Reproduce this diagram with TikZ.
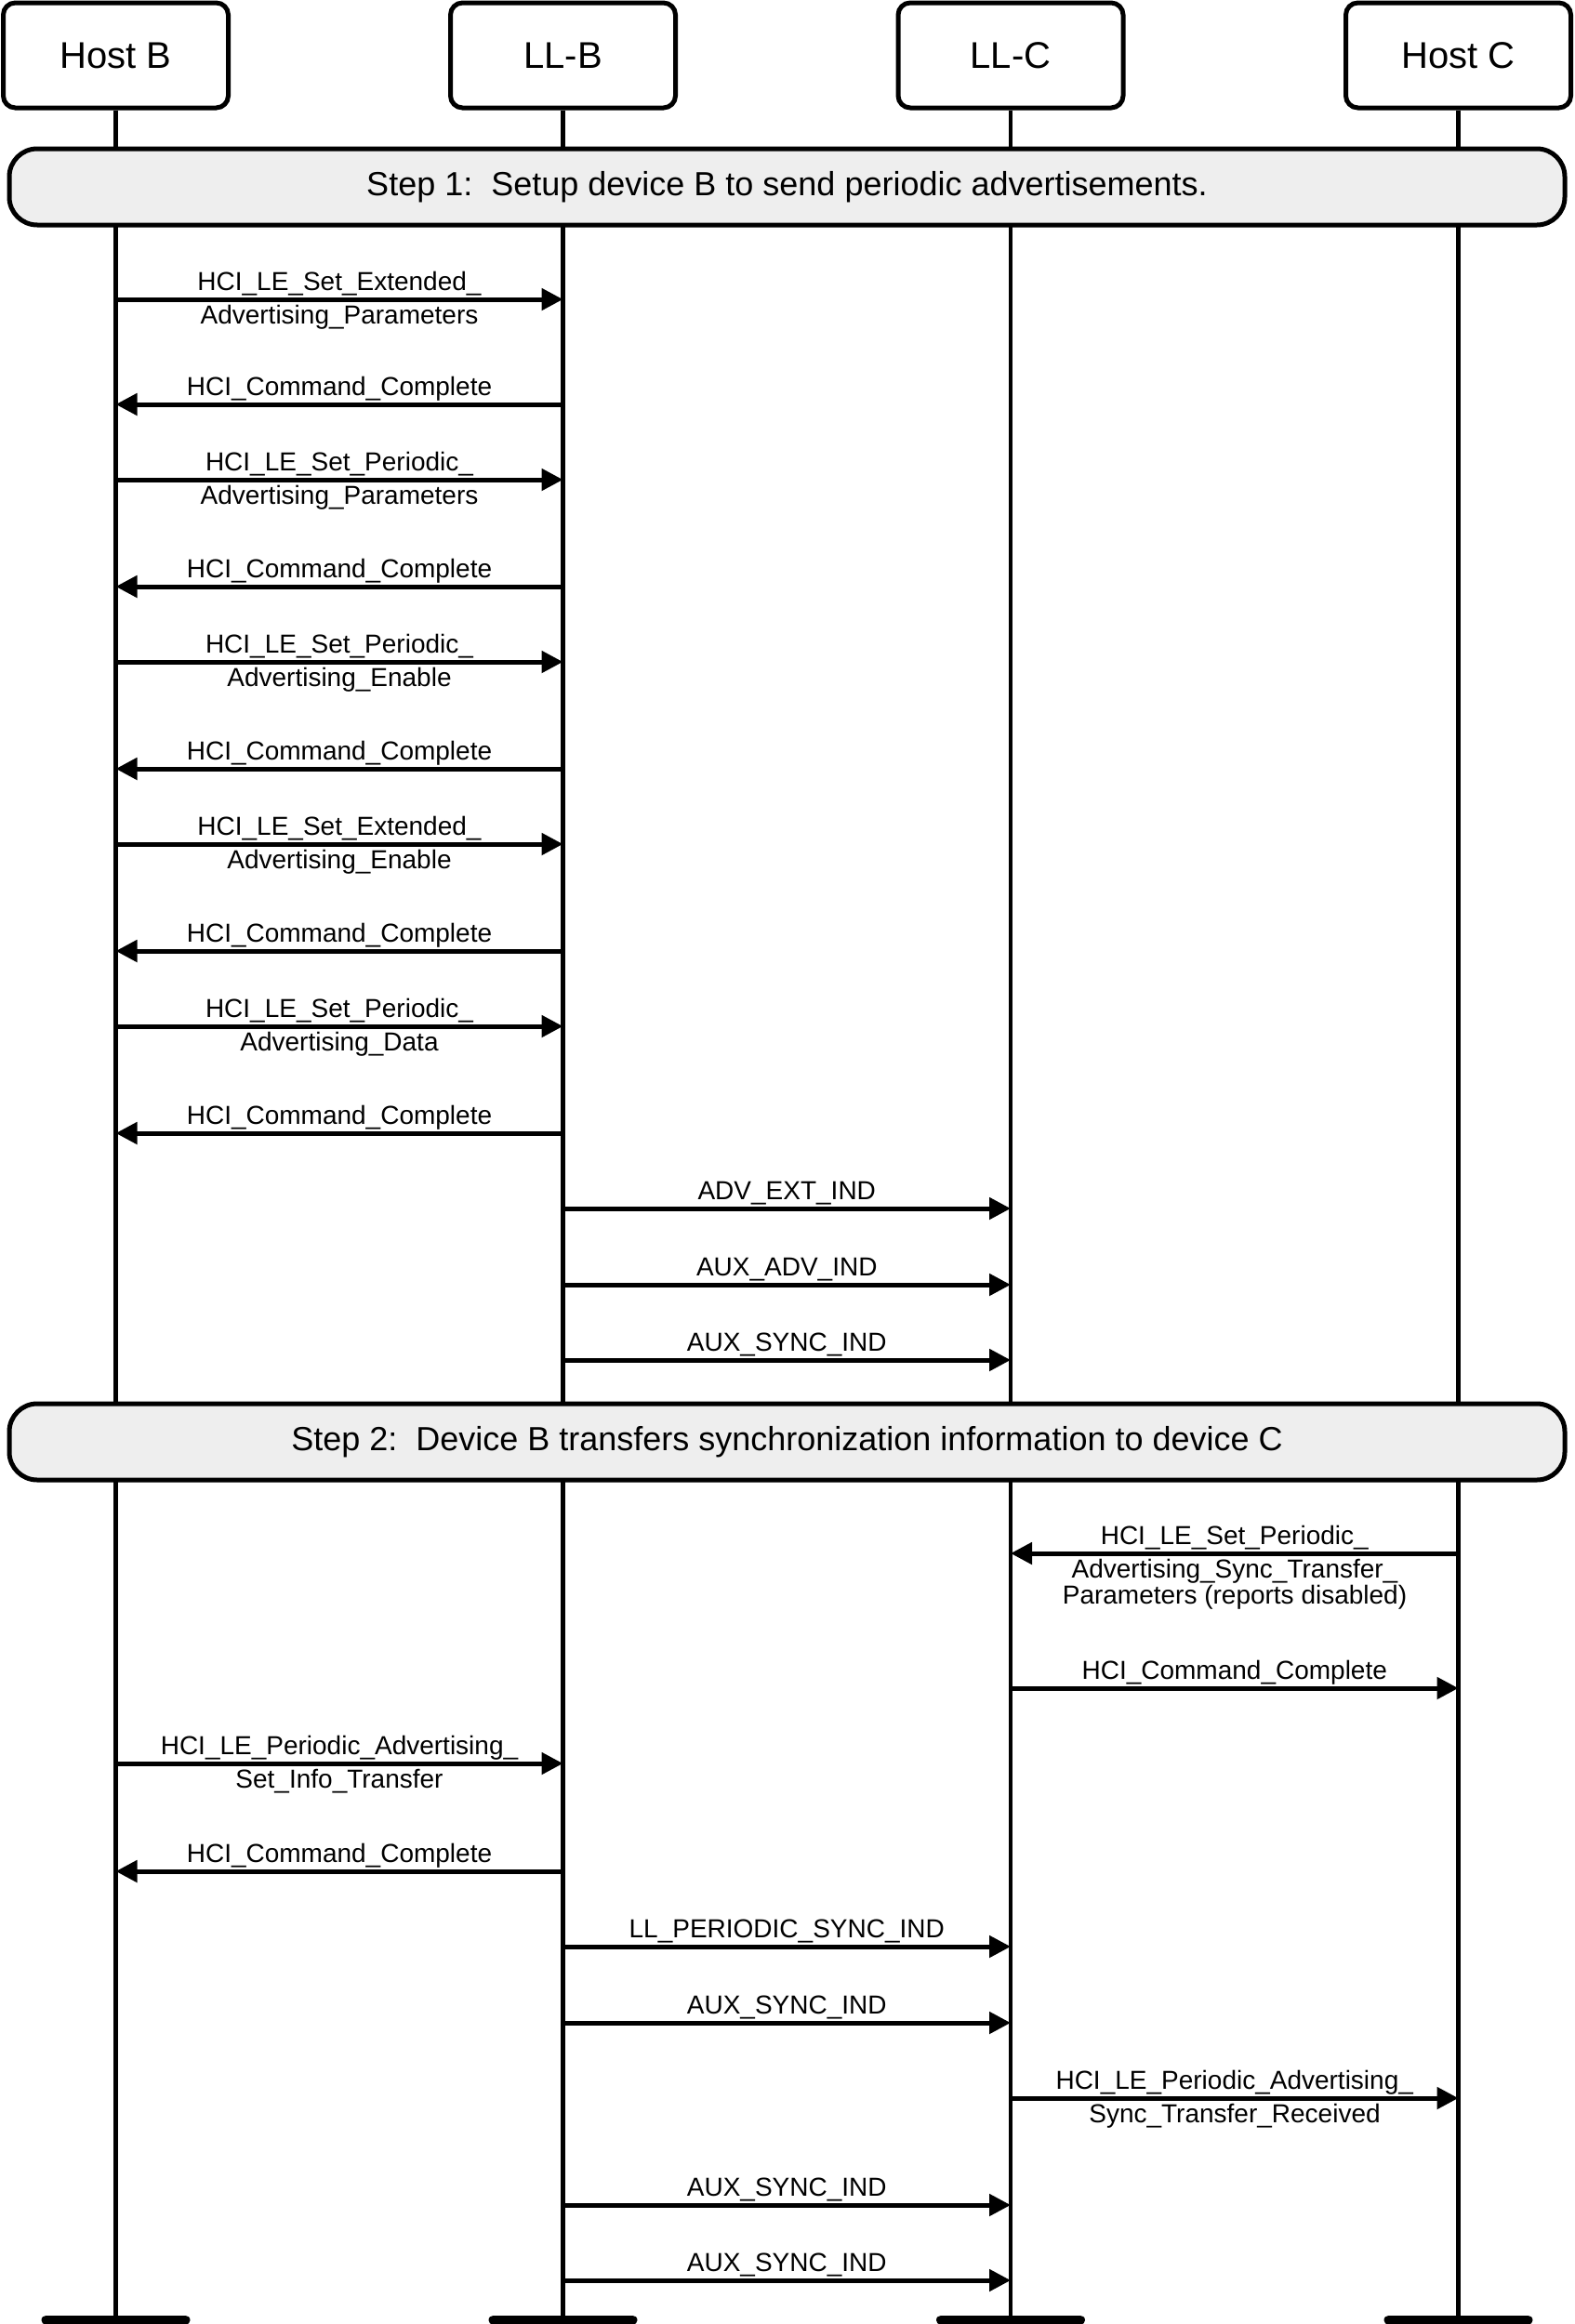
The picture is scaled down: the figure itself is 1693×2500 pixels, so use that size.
\documentclass[tikz,border=0pt]{standalone}
\usepackage{fontspec}
\setmainfont{Liberation Sans}
\usetikzlibrary{arrows.meta}
\definecolor{stepgray}{RGB}{238,238,238}
\def\xHB{124.5}
\def\xLB{605.5}
\def\xLC{1087}
\def\xHC{1568.5}
\newcommand\mymsg[5]{%
  \coordinate (#1a) at (#2,#4);
  \coordinate (#1b) at (#3,#4);
  \draw[msg] (#1a) -- (#1b);
  \node[lbl] (#1t) at ({(#2+#3)/2},{#4-10}) {#5};
}
\begin{document}
\begin{tikzpicture}[x=0.5pt,y=-0.5pt,
  hdr/.style={draw, line width=2.5pt, rounded corners=6.5pt, minimum width=121pt, minimum height=56.5pt, inner sep=0pt, fill=white, font=\fontsize{20pt}{24pt}\selectfont},
  life/.style={line width=2.4pt},
  stepbox/.style={draw, line width=2.5pt, rounded corners=15pt, fill=stepgray, minimum width=836.5pt, minimum height=41pt, inner sep=0pt, font=\fontsize{18pt}{22pt}\selectfont},
  msg/.style={line width=2.5pt, -{Triangle[length=11.5pt,width=11.5pt]}},
  lbl/.style={anchor=base, inner sep=0pt, font=\fontsize{14pt}{16pt}\selectfont},
  endbar/.style={line width=5pt, line cap=round}
]
\useasboundingbox (0,0) rectangle (1693,2500);

% headers
\node[hdr] (hb) at (\xHB,59.5) {Host B};
\node[hdr] (lb) at (\xLB,59.5) {LL-B};
\node[hdr] (lc) at (\xLC,59.5) {LL-C};
\node[hdr] (hc) at (\xHC,59.5) {Host C};

% lifeline ends
\coordinate (hbend) at (\xHB,2495.5);
\coordinate (lbend) at (\xLB,2495.5);
\coordinate (lcend) at (\xLC,2495.5);
\coordinate (hcend) at (\xHC,2495.5);

\draw[life] (hb.south) -- (hbend);
\draw[life] (lb.south) -- (lbend);
\draw[life] (lc.south) -- (lcend);
\draw[life] (hc.south) -- (hcend);

\foreach \e in {hbend,lbend,lcend,hcend}{
  \draw[endbar] ([xshift=-37.5pt]\e) -- ([xshift=37.5pt]\e);
}

% step boxes
\node[stepbox] (s1) at (846.5,201) {Step 1:~~Setup device B to send periodic advertisements.};
\node[stepbox] (s2) at (846.5,1551) {Step 2:~~Device B transfers synchronization information to device C};

% step 1 messages
\mymsg{m1}{\xHB}{\xLB}{322}{HCI\_LE\_Set\_Extended\_}
\node[lbl] (m1u) at (365,348) {Advertising\_Parameters};
\mymsg{m2}{\xLB}{\xHB}{435}{HCI\_Command\_Complete}
\mymsg{m3}{\xHB}{\xLB}{516}{HCI\_LE\_Set\_Periodic\_}
\node[lbl] (m3u) at (365,542) {Advertising\_Parameters};
\mymsg{m4}{\xLB}{\xHB}{631}{HCI\_Command\_Complete}
\mymsg{m5}{\xHB}{\xLB}{712}{HCI\_LE\_Set\_Periodic\_}
\node[lbl] (m5u) at (365,738) {Advertising\_Enable};
\mymsg{m6}{\xLB}{\xHB}{827}{HCI\_Command\_Complete}
\mymsg{m7}{\xHB}{\xLB}{908}{HCI\_LE\_Set\_Extended\_}
\node[lbl] (m7u) at (365,934) {Advertising\_Enable};
\mymsg{m8}{\xLB}{\xHB}{1023}{HCI\_Command\_Complete}
\mymsg{m9}{\xHB}{\xLB}{1104}{HCI\_LE\_Set\_Periodic\_}
\node[lbl] (m9u) at (365,1130) {Advertising\_Data};
\mymsg{m10}{\xLB}{\xHB}{1219}{HCI\_Command\_Complete}
\mymsg{m11}{\xLB}{\xLC}{1300}{ADV\_EXT\_IND}
\mymsg{m12}{\xLB}{\xLC}{1382}{AUX\_ADV\_IND}
\mymsg{m13}{\xLB}{\xLC}{1463}{AUX\_SYNC\_IND}

% step 2 messages
\mymsg{m14}{\xHC}{\xLC}{1671}{HCI\_LE\_Set\_Periodic\_}
\node[lbl] (m14u) at (1328,1697) {Advertising\_Sync\_Transfer\_};
\node[lbl] (m14v) at (1328,1725) {Parameters (reports disabled)};
\mymsg{m15}{\xLC}{\xHC}{1816}{HCI\_Command\_Complete}
\mymsg{m16}{\xHB}{\xLB}{1897}{HCI\_LE\_Periodic\_Advertising\_}
\node[lbl] (m16u) at (365,1923) {Set\_Info\_Transfer};
\mymsg{m17}{\xLB}{\xHB}{2013}{HCI\_Command\_Complete}
\mymsg{m18}{\xLB}{\xLC}{2094}{LL\_PERIODIC\_SYNC\_IND}
\mymsg{m19}{\xLB}{\xLC}{2176}{AUX\_SYNC\_IND}
\mymsg{m20}{\xLC}{\xHC}{2257}{HCI\_LE\_Periodic\_Advertising\_}
\node[lbl] (m20u) at (1328,2283) {Sync\_Transfer\_Received};
\mymsg{m21}{\xLB}{\xLC}{2372}{AUX\_SYNC\_IND}
\mymsg{m22}{\xLB}{\xLC}{2453}{AUX\_SYNC\_IND}
\end{tikzpicture}
\end{document}
